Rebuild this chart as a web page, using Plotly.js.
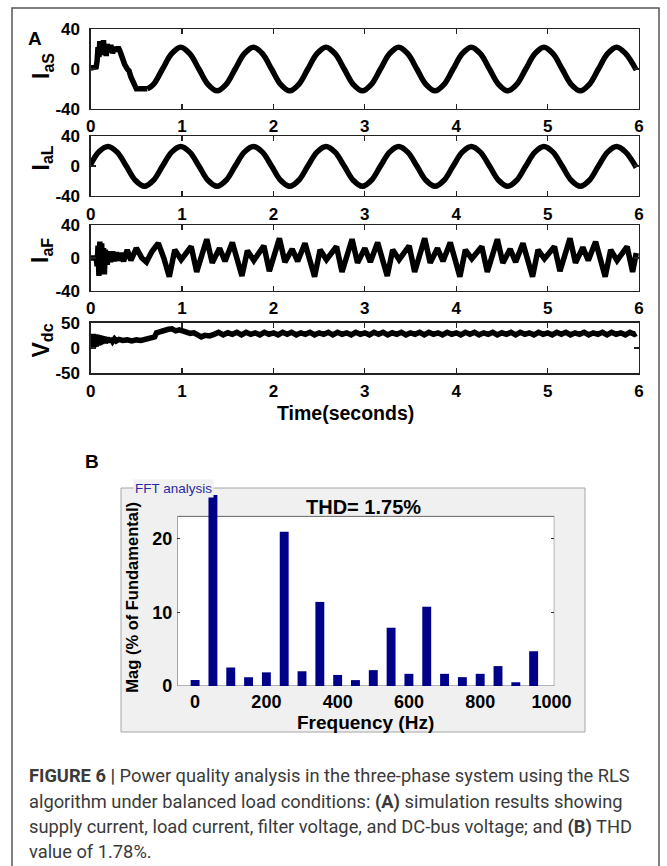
<!DOCTYPE html>
<html>
<head>
<meta charset="utf-8">
<script src="https://cdn.plot.ly/plotly-3.0.1.min.js"></script>
<style>html,body{margin:0;padding:0;background:#fff;}#chart{width:667px;height:866px;}</style>
</head>
<body>
<div id="chart"></div>
<script>
// ---------- Panel A data (time in seconds) ----------
const xTicks = [0, 1, 2, 3, 4, 5, 6];

// Supply current I_aS: start-up transient
const iasStartT = [0,0.03,0.06,0.07,0.08,0.09,0.10,0.11,0.12,0.13,0.14,0.15,0.16,0.17,0.18,0.20,0.22,0.24,0.26,0.28,0.30,0.32,0.34,0.37,0.40,0.42,0.44,0.46,0.48,0.50,0.55,0.62];
const iasStartV = [1,1,2,8,22,12,28,14,26,16,29,15,24,13,25,17,24,16,22,18,22,18,12,5,0,-2,-8,-12,-15,-20,-20,-20];
// Supply current I_aS: steady state
const iasT = [0.62,0.687,0.786,0.886,
  0.985,1.084,1.184,1.283,1.383,1.482,1.581,1.681,
  1.78,1.879,1.979,2.078,2.178,2.277,2.376,2.476,
  2.575,2.674,2.774,2.873,2.973,3.072,3.171,3.271,
  3.37,3.469,3.569,3.668,3.768,3.867,3.966,4.066,
  4.165,4.264,4.364,4.463,4.563,4.662,4.761,4.861,
  4.96,5.059,5.159,5.258,5.358,5.457,5.556,5.656,
  5.755,5.854,5.97];
const iasV = [-20,-15.5,0,15.5,
  22,15.5,0,-15.5,-22,-15.5,0,15.5,
  22,15.5,0,-15.5,-22,-15.5,0,15.5,
  22,15.5,0,-15.5,-22,-15.5,0,15.5,
  22,15.5,0,-15.5,-22,-15.5,0,15.5,
  22,15.5,0,-15.5,-22,-15.5,0,15.5,
  22,15.5,0,-15.5,-22,-15.5,0,15.5,
  22,15.5,-1];

// Load current I_aL
const ialT = [0,0.09,
  0.19,0.289,0.389,0.488,0.588,0.687,0.786,0.886,
  0.985,1.084,1.184,1.283,1.383,1.482,1.581,1.681,
  1.78,1.879,1.979,2.078,2.178,2.277,2.376,2.476,
  2.575,2.674,2.774,2.873,2.973,3.072,3.171,3.271,
  3.37,3.469,3.569,3.668,3.768,3.867,3.966,4.066,
  4.165,4.264,4.364,4.463,4.563,4.662,4.761,4.861,
  4.96,5.059,5.159,5.258,5.358,5.457,5.556,5.656,
  5.755,5.854,5.97];
const ialV = [2,19,
  26,18.5,0,-19,-27,-19,0,18.5,
  26,18.5,0,-19,-27,-19,0,18.5,
  26,18.5,0,-19,-27,-19,0,18.5,
  26,18.5,0,-19,-27,-19,0,18.5,
  26,18.5,0,-19,-27,-19,0,18.5,
  26,18.5,0,-19,-27,-19,0,18.5,
  26,18.5,0,-19,-27,-19,0,18.5,
  26,18.5,-2];

// Filter current I_aF
const iafT = [0,0.06,0.07,0.08,0.09,0.10,0.11,0.12,0.13,0.14,0.15,0.16,0.18,0.20,0.22,0.24,0.26,0.28,0.30,0.33,0.36,0.40,0.44,0.50,0.56,0.61,0.67,0.74,0.80,
  0.86,0.92,0.99,1.10,1.16,1.27,1.33,1.41,1.47,1.55,
  1.655,1.715,1.785,1.895,1.955,2.065,2.125,2.205,2.265,2.345,
  2.45,2.51,2.58,2.69,2.75,2.86,2.92,3.00,3.06,3.14,
  3.245,3.305,3.375,3.485,3.545,3.655,3.715,3.795,3.855,3.935,
  4.04,4.10,4.17,4.28,4.34,4.45,4.51,4.59,4.65,4.73,
  4.835,4.895,4.965,5.075,5.135,5.245,5.305,5.385,5.445,5.525,
  5.63,5.69,5.76,5.87,5.93,5.97];
const iafV = [0,0,-10,15,-22,20,-18,18,-15,12,-20,10,-8,8,-5,8,-4,7,-3,6,-4,10,-3,12,0,-5,8,18,0,
  -23,10,-2,14,-17,23,-6,12,-4,19,
  -22,9,-3,15,-16,24,-5,11,-4,18,
  -23,10,-2,14,-17,23,-6,12,-5,19,
  -22,10,-2,15,-17,24,-6,12,-4,19,
  -23,10,-1,14,-17,23,-6,11,-5,18,
  -23,10,-1,14,-16,24,-6,13,-3,20,
  -23,10,-3,14,-17,6];

// DC-bus voltage V_dc
const vdcT = [0,0.01,0.02,0.03,0.04,0.05,0.06,0.07,0.08,0.09,0.10,0.11,0.12,0.13,0.14,0.15,0.16,0.18,0.20,0.22,0.24,0.26,0.28,0.31,0.35,0.40,0.45,0.50,0.55,0.60,0.62,0.66,0.70,0.72,0.76,0.80,0.85,0.89,0.93,0.97,1.01,1.05,1.09,1.13,1.17,1.21,1.25,1.30,1.35,
  1.40,1.45,1.50,1.55,1.60,1.65,1.70,1.75,1.80,1.85,1.90,1.95,2.00,2.05,2.10,2.15,2.20,2.25,2.30,2.35,
  2.40,2.45,2.50,2.55,2.60,2.65,2.70,2.75,2.80,2.85,2.90,2.95,3.00,3.05,3.10,3.15,3.20,3.25,3.30,3.35,
  3.40,3.45,3.50,3.55,3.60,3.65,3.70,3.75,3.80,3.85,3.90,3.95,4.00,4.05,4.10,4.15,4.20,4.25,4.30,4.35,
  4.40,4.45,4.50,4.55,4.60,4.65,4.70,4.75,4.80,4.85,4.90,4.95,5.00,5.05,5.10,5.15,5.20,5.25,5.30,5.35,
  5.40,5.45,5.50,5.55,5.60,5.65,5.70,5.75,5.80,5.85,5.90,5.95,5.97];
const vdcV = [2,25,0,28,2,27,3,26,5,25,6,24,8,23,9,22,10,20,12,19,13,18,14,17,15,16,14,16,15,17,20,21,22,30,33,34,37,38,34,36,33,31,29,30,27,22,25,24,27,
  31,26,30,27,31,26,31,27,30,26,31,27,30,26,31,27,31,26,30,27,
  31,26,30,27,31,26,31,27,30,26,31,27,30,26,31,27,31,26,30,27,
  31,26,30,27,31,26,31,27,30,26,31,27,30,26,31,27,31,26,30,27,
  31,26,30,27,31,26,31,27,30,26,31,27,30,26,31,27,31,26,30,27,
  31,26,30,27,31,26,31,27,30,26,31,27,29];

// ---------- Panel B data ----------
const fftFreq = [0,50,100,150,200,250,300,350,400,450,500,550,600,650,700,750,800,850,900,950];
const fftMag  = [0.8,100,2.5,1.2,1.85,20.9,2.0,11.4,1.5,0.8,2.15,7.9,1.65,10.75,1.65,1.2,1.65,2.7,0.5,4.7];
const fftTicks = [0,200,400,600,800,1000];
const fftYTicks = [0,10,20];

// ---------- helpers ----------
const W = 667, H = 866;
const px = v => v / W;
const py = v => 1 - v / H;
const LINE = {color:'#000', width:5.5};
const tickFontA = {family:'Liberation Sans, Arial, sans-serif', size:17, color:'#000', weight:'bold'};

function xA(anchor){
  return {domain:[px(90.7), px(639)], anchor:anchor, range:[0,6], tickvals:xTicks,
    ticks:'inside', ticklen:5, tickwidth:1.2, tickcolor:'#222',
    showline:true, linecolor:'#222', linewidth:1.3, mirror:'ticks',
    showgrid:false, zeroline:false, tickfont:tickFontA, ticklabelstandoff:2, fixedrange:true};
}
function yA(anchor, top, bottom, lim){
  return {domain:[py(bottom), py(top)], anchor:anchor, range:[-lim, lim],
    tickvals:[-lim,0,lim], ticktext:['-'+lim,'0',String(lim)],
    ticks:'inside', ticklen:5, tickwidth:1.2, tickcolor:'#222',
    showline:true, linecolor:'#222', linewidth:1.3, mirror:'ticks',
    showgrid:false, zeroline:false, tickfont:tickFontA, ticklabelstandoff:6, fixedrange:true};
}

const traces = [
  {x:iasStartT, y:iasStartV, xaxis:'x', yaxis:'y', mode:'lines', line:LINE, hoverinfo:'skip'},
  {x:iasT, y:iasV, xaxis:'x', yaxis:'y', mode:'lines', line:Object.assign({shape:'spline'}, LINE), hoverinfo:'skip'},
  {x:ialT, y:ialV, xaxis:'x2', yaxis:'y2', mode:'lines', line:Object.assign({shape:'spline'}, LINE), hoverinfo:'skip'},
  {x:iafT, y:iafV, xaxis:'x3', yaxis:'y3', mode:'lines', line:LINE, hoverinfo:'skip'},
  {x:vdcT, y:vdcV, xaxis:'x4', yaxis:'y4', mode:'lines', line:LINE, hoverinfo:'skip'},
  {type:'bar', x:fftFreq, y:fftMag, xaxis:'x5', yaxis:'y5', width:25,
   marker:{color:'#000088', line:{width:0}}, hoverinfo:'skip'}
];

const boldFont = (s, c) => ({family:'Liberation Sans, Arial, sans-serif', size:s, color:c||'#000', weight:'bold'});
const capFont = {family:'Roboto, Liberation Sans, Arial, sans-serif', size:18.3, color:'#3a3a3a'};

function ann(text, x, y, font, extra){
  return Object.assign({text:text, x:px(x), y:py(y), xref:'paper', yref:'paper',
    showarrow:false, xanchor:'center', yanchor:'middle', font:font}, extra||{});
}

const annotations = [
  ann('A', 35, 38.5, boldFont(19)),
  ann('I<sub>aS</sub>', 42, 66, boldFont(23), {textangle:-90}),
  ann('I<sub>aL</sub>', 42, 158.5, boldFont(23), {textangle:-90}),
  ann('I<sub>aF</sub>', 42, 251, boldFont(23), {textangle:-90}),
  ann('V<sub>dc</sub>', 42, 340.5, boldFont(23), {textangle:-90}),
  ann('Time(seconds)', 345, 413, boldFont(19.5)),
  ann('B', 91.5, 461.5, boldFont(19)),
  ann('FFT analysis', 173.5, 488, {family:'Liberation Sans, Arial, sans-serif', size:13.5, color:'#2a2aa5'}, {bgcolor:'#f0f0f0', borderpad:1}),
  ann('THD= 1.75%', 364, 506.7, boldFont(20)),
  ann('Mag (% of Fundamental)', 131.7, 597, boldFont(16.5), {textangle:-90}),
  ann('Frequency (Hz)', 365, 722, boldFont(19)),
  ann('<b>FIGURE 6 |</b> Power quality analysis in the three-phase system using the RLS', 26.5, 775, capFont, {xanchor:'left'}),
  ann('algorithm under balanced load conditions: <b>(A)</b> simulation results showing', 26.5, 801.5, capFont, {xanchor:'left'}),
  ann('supply current, load current, filter voltage, and DC-bus voltage; and <b>(B)</b> THD', 26.5, 826.7, capFont, {xanchor:'left'}),
  ann('value of 1.78%.', 26.5, 851.7, capFont, {xanchor:'left'})
];

const shapes = [
  {type:'rect', xref:'paper', yref:'paper', x0:px(12), x1:px(659), y0:-0.02, y1:py(8),
   line:{color:'#555', width:1.5}, fillcolor:'rgba(0,0,0,0)', layer:'below'},
  {type:'rect', xref:'paper', yref:'paper', x0:px(121), x1:px(585), y0:py(732), y1:py(488),
   line:{color:'#a6a6a6', width:1}, fillcolor:'#f0f0f0', layer:'below'},
  {type:'rect', xref:'x5', yref:'y5', x0:-50, x1:1008, y0:0, y1:23,
   line:{color:'#666', width:1}, fillcolor:'#ffffff', layer:'below'}
];

const layout = {
  width:W, height:H, margin:{l:0,r:0,t:0,b:0},
  paper_bgcolor:'#ffffff', plot_bgcolor:'rgba(0,0,0,0)', showlegend:false,
  font:{family:'Liberation Sans, Arial, sans-serif'},
  xaxis: xA('y'), yaxis: yA('x', 29.3, 108.7, 40),
  xaxis2: xA('y2'), yaxis2: yA('x2', 136, 196, 40),
  xaxis3: xA('y3'), yaxis3: yA('x3', 225.3, 290.7, 40),
  xaxis4: xA('y4'), yaxis4: yA('x4', 322.7, 373.3, 50),
  xaxis5: {domain:[px(177.3), px(554.3)], anchor:'y5', range:[-50,1008], tickvals:fftTicks,
    ticks:'', showline:false, showgrid:false, zeroline:false, tickfont:boldFont(18),
    ticklabelstandoff:3, fixedrange:true},
  yaxis5: {domain:[py(686), py(495)], anchor:'x5', range:[0,25.9], tickvals:fftYTicks,
    ticks:'inside', ticklen:3, tickwidth:1, tickcolor:'#333', mirror:'ticks', showline:false,
    showgrid:false, zeroline:false, tickfont:boldFont(18), ticklabelstandoff:4, fixedrange:true},
  bargap:0.5,
  annotations:annotations, shapes:shapes
};

Plotly.newPlot('chart', traces, layout, {staticPlot:true, displayModeBar:false});
</script>
</body>
</html>
